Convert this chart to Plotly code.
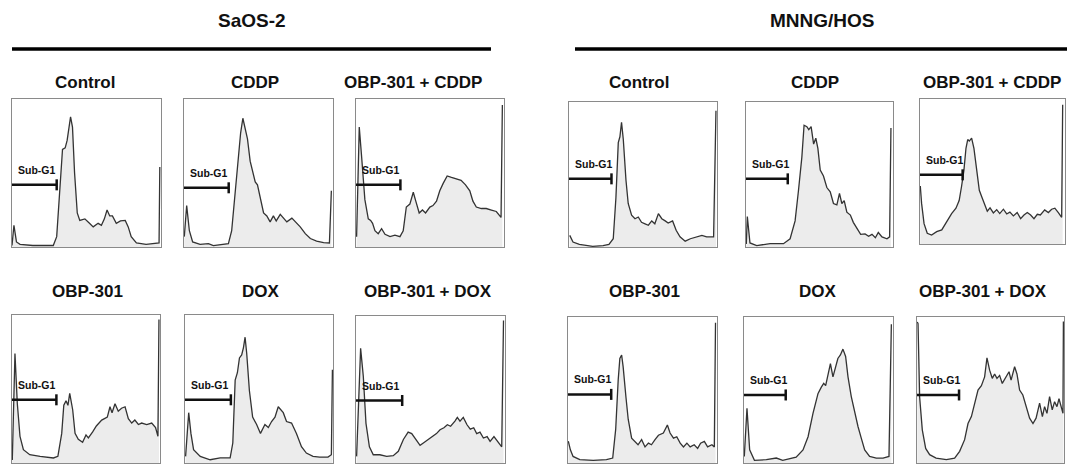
import plotly.graph_objects as go

# ---------------- data ----------------
GROUPS = ["SaOS-2", "MNNG/HOS"]
TITLES_ROW1 = ["Control", "CDDP", "OBP-301 + CDDP"]
TITLES_ROW2 = ["OBP-301", "DOX", "OBP-301 + DOX"]
GATE_LABEL = "Sub-G1"

# DNA content (x, % of channel range) vs. cell count (y, % of panel height)
SAOS_CONTROL_X = [0, 1.3, 3, 5.4, 14, 27.7, 30, 32, 33.9, 35.7, 37, 39.3, 40.6, 42, 43.8, 45.5, 48.9, 52, 54.5, 57.8,
                  60, 62, 63.8, 65.6, 67.4, 70, 72.8, 76, 78, 80, 83.5, 90, 96.9, 98.7, 99.2]
SAOS_CONTROL_Y = [1, 14.7, 3.4, 1.8, 1, 1, 7, 38, 66, 67, 72, 88, 81, 50, 23, 18, 19, 16, 13.6, 16,
                  14.7, 19, 25, 21, 21, 16, 17.6, 18, 13.6, 7, 2.7, 1.8, 2.7, 2.7, 54]

SAOS_CDDP_X = [0.2, 1.8, 3.6, 5.8, 10.8, 16.4, 19.7, 26.5, 29.8, 32, 34.3, 36.5, 38, 39.5, 41, 42.6, 44.4, 46, 47.8,
               49.3, 51, 53.4, 55.6, 57.8, 60, 61.9, 64.6, 66.8, 69, 72.4, 74.7, 78, 81.4, 84.8, 89, 93.7, 97.6, 98.9]
SAOS_CDDP_Y = [7, 28, 11, 3.4, 1.8, 2.3, 1, 2, 2.3, 11, 38, 61, 77, 87, 81, 73, 58, 52, 44,
               42, 34, 23, 21, 17, 21, 17.6, 22, 19.5, 17, 19.5, 17, 13.6, 9, 5.7, 4, 3, 2.7, 38]

SAOS_OBP_CDDP_X = [0.4, 2.2, 3.8, 6, 8.3, 9.9, 11.2, 12.8, 15, 17.3, 19.6, 23, 26.3, 29.7, 31.9, 34, 36.4, 38.7, 40.4,
                   42.7, 44.9, 47, 49.9, 52, 54.4, 56.6, 58.9, 61.6, 64.5, 67.9, 71, 74, 76.9, 79, 81.3, 84.7, 88,
                   91.5, 94.8, 98, 98.9]
SAOS_OBP_CDDP_Y = [7, 81, 61, 32, 19, 18, 16, 11, 9, 12.4, 8.6, 7, 8, 7, 11, 27, 29, 37, 31,
                   23, 25, 23, 27, 28, 31, 38, 43, 48, 47, 46, 45, 42, 38, 31, 27, 26, 26,
                   25, 24, 20, 96]

SAOS_OBP_X = [0.2, 2, 3.6, 5.4, 7.7, 12, 19, 28, 31, 33.6, 35, 36.5, 37.8, 39, 41, 42.6, 44.8, 47.7, 50, 51.6,
              54.5, 57, 60.6, 64.4, 66.2, 67.6, 69.6, 71.8, 74, 76.4, 78.6, 80.9, 83, 85.4, 87.6, 91, 94.4, 97,
              98.6, 99.3]
SAOS_OBP_Y = [2, 74, 40, 18, 9, 5.6, 4.5, 3.4, 4.5, 20, 39, 42, 39, 47, 36, 20, 16, 14, 19, 17,
              21, 25, 29, 31, 38, 34, 40, 35, 37, 38, 30, 27, 29, 26, 27, 26, 27, 24,
              18, 97]

SAOS_DOX_X = [0.4, 2.5, 4, 5.8, 10.3, 17, 23.8, 30.5, 32.3, 33.9, 35.4, 36.8, 38.3, 39.5, 40.6, 41.7, 43.5, 45.7,
              48.4, 51, 54, 56.3, 58.5, 60.8, 63, 64.8, 66.4, 68.6, 72, 75.3, 78.7, 82, 86.5, 91, 96.6, 98.9, 99.6]
SAOS_DOX_Y = [4.5, 34, 20, 9, 4.5, 2.2, 3.4, 3.4, 13.5, 56, 61, 71, 73, 78, 85, 74, 49, 31,
              26, 20, 26, 24, 28, 31, 38, 36, 34, 28, 27, 20, 11, 6.7, 4.5, 4, 4, 5.6, 63]

SAOS_OBP_DOX_X = [0.4, 3.1, 4.9, 6.7, 9, 11.6, 16, 20.6, 25, 28.4, 31.8, 35, 37.4, 40.3, 43, 45.2, 48.5, 51, 54,
                  56.4, 59, 61.3, 63.5, 66.4, 68, 69.8, 72, 74.5, 76.7, 79, 81, 83.2, 85.5, 88, 90, 92.6, 94.9,
                  97.8, 99]
SAOS_OBP_DOX_Y = [4.5, 78, 59, 27, 11, 5.6, 5.6, 4.5, 5, 8, 16, 21, 20, 16, 12, 13.6, 16, 18, 20,
                  22.6, 24, 26, 25, 28.5, 31, 28.5, 31, 26, 23, 24, 20, 21, 17, 18, 14.7, 18, 14.7,
                  11, 97]

MNNG_CONTROL_X = [0.5, 2.7, 7, 16, 23, 27, 29.9, 31.7, 33.3, 34.4, 35.5, 36.7, 38.5, 40, 42.3, 44.6, 46.8, 49, 51.4,
                  53.6, 55.9, 58, 60.4, 62.7, 65, 67, 70, 72.4, 75, 78.5, 82, 86.4, 89.8, 93, 97.7, 99.3]
MNNG_CONTROL_Y = [8, 3.4, 1.8, 0.5, 1, 1.8, 5.7, 34, 72, 76, 86, 74, 46, 30, 22, 19.5, 20.7, 17, 16,
                  15, 18, 16, 23, 19.5, 18, 16.5, 18, 11.5, 7, 4, 5.7, 7, 8, 7, 7, 94]

MNNG_CDDP_X = [0.2, 0.9, 2.7, 7.3, 16.4, 25.5, 30, 33.4, 35.7, 38, 39.5, 41.4, 42.7, 44.3, 46, 47.5, 48.9, 50.5,
               52.7, 55, 57.3, 59.5, 61.8, 63.6, 65.2, 66.8, 68.6, 71, 73, 75.5, 78, 81, 83.4, 85.7, 88, 90, 92.5,
               95.9, 97.7, 98.6]
MNNG_CDDP_Y = [2, 21, 2.8, 1, 2.3, 2.3, 5.7, 18, 39, 62, 84, 83, 81, 83, 71, 75, 68, 53,
               49, 41, 38, 30, 29, 37, 30, 32, 24, 22, 17, 12.6, 8.7, 9, 7.4, 8.7, 6.4, 10, 7,
               5.7, 7, 82]

MNNG_OBP_CDDP_X = [0.2, 1.1, 2.8, 5, 8, 11.5, 15, 18.4, 21.8, 24.8, 27, 28.7, 30.3, 31.7, 32.9, 34, 35.6, 37.2, 39,
                   40.9, 42.5, 44.8, 46.4, 48.3, 50.6, 52.9, 55, 57.5, 59.8, 62, 64.4, 67, 69.4, 71.7, 74, 76.3,
                   78.6, 80.9, 83, 86, 88.5, 90.8, 93, 95.4, 97.7, 98.4]
MNNG_OBP_CDDP_Y = [40, 28, 14, 7.4, 6.2, 8.5, 9.7, 15.7, 21, 24.7, 30, 40, 51, 66, 72, 71, 73, 66, 51,
                   37, 32.7, 26, 22.6, 24.9, 21.4, 23.7, 21, 24, 20.7, 22, 19.4, 21.7, 17.5, 20, 21.7, 20,
                   17.5, 20.5, 20, 23.5, 21.7, 24, 24.7, 21.7, 18.4, 96]

MNNG_OBP_X = [0.2, 1.6, 3.4, 7.9, 16.9, 25.8, 30, 32, 33.7, 34.8, 36, 37, 38.9, 40.4, 42.7, 45, 47, 49.4, 51.7, 54,
              56, 58.4, 60.7, 64, 66.7, 68.5, 70.8, 73, 75.3, 77.5, 79.8, 82, 84.7, 87, 89, 91.5, 93.7, 96.6,
              98.2, 99]
MNNG_OBP_Y = [15, 9, 4.5, 2.3, 1.8, 2.3, 3.4, 23, 57, 71.6, 74, 66, 45, 30, 17, 14.8, 12.5, 16, 11, 13.6,
              12.5, 16, 19, 20.5, 26, 20.5, 17, 18, 13.6, 11, 13.6, 11, 12.5, 10, 13.6, 14.8, 11, 12.5,
              11, 96]

MNNG_DOX_X = [0.2, 2, 3.8, 7, 15, 21.7, 26, 35, 39.6, 43, 46.3, 49.7, 51.9, 53.5, 54.8, 56.4, 58, 59.7, 61.5, 63,
              64.7, 66.4, 68.2, 69.8, 72, 74.3, 76.5, 78.7, 81, 84.3, 88.8, 93.3, 97.3, 98.9]
MNNG_DOX_Y = [4.5, 37.5, 9, 1.8, 2.3, 3.4, 1.8, 4, 9, 18, 34, 47.7, 52, 54.5, 53, 61, 68, 59, 65, 71.6,
              74, 78, 73, 59, 45.5, 34, 25, 17, 9, 4.5, 3.4, 3.4, 4.5, 95]

MNNG_OBP_DOX_X = [0.2, 0.7, 1.8, 3.6, 5.9, 8.6, 13, 20, 25.6, 29, 32.4, 34.7, 37, 39.2, 41.5, 43.8, 46, 47.6, 49.4,
                  51.2, 52.8, 54.4, 56.2, 58, 60.3, 62.6, 64, 66.4, 68, 69.8, 72, 74.4, 76.6, 78.9, 81, 83.4,
                  85.3, 86.8, 88.4, 90.2, 92, 93.6, 95.2, 96.6, 98.2, 99.3, 99.6]
MNNG_OBP_DOX_Y = [96.6, 95.5, 45, 22.7, 10, 5.7, 3.4, 2.3, 3.4, 8, 16, 27, 31.8, 41, 50, 53, 59, 72, 63.6,
                  58, 61, 58, 60, 54.5, 59, 62.5, 56.8, 65.9, 61, 50, 46.6, 38.6, 30.7, 27, 30.7, 41,
                  31.8, 38.6, 34, 45.5, 36.4, 42, 38.6, 44, 38.6, 34, 97]

# Sub-G1 gate: upper bound (x) and drawing level (y), per panel
GATE_END = [30, 30, 30, 30, 31, 31, 28.7, 28.4, 29.4, 29, 28, 28.6]
GATE_Y = [42, 40, 42, 42.7, 42.7, 42.5, 47, 47, 47.7, 47, 46.6, 46.6]

SERIES = [
    (SAOS_CONTROL_X, SAOS_CONTROL_Y), (SAOS_CDDP_X, SAOS_CDDP_Y), (SAOS_OBP_CDDP_X, SAOS_OBP_CDDP_Y),
    (SAOS_OBP_X, SAOS_OBP_Y), (SAOS_DOX_X, SAOS_DOX_Y), (SAOS_OBP_DOX_X, SAOS_OBP_DOX_Y),
    (MNNG_CONTROL_X, MNNG_CONTROL_Y), (MNNG_CDDP_X, MNNG_CDDP_Y), (MNNG_OBP_CDDP_X, MNNG_OBP_CDDP_Y),
    (MNNG_OBP_X, MNNG_OBP_Y), (MNNG_DOX_X, MNNG_DOX_Y), (MNNG_OBP_DOX_X, MNNG_OBP_DOX_Y),
]

# ---------------- layout (pixels) ----------------
W, H = 1075, 464
FONT = "Liberation Sans, Arial, sans-serif"
# panel boxes: left, right, top, bottom
BOXES = [
    (12, 161, 99, 247), (184, 333, 99, 247), (356, 504, 99, 247),
    (12, 160, 315, 463), (185, 333, 315, 463), (356, 505, 316, 463),
    (569, 717, 102, 247), (746, 893, 102, 247), (920, 1065, 99, 244),
    (568, 717, 317, 463), (744, 893, 317, 463), (917, 1064, 317, 463),
]
GROUP_TITLE_POS = [(252, 20), (822, 20)]
GROUP_LINE_POS = [(12, 491, 49), (575, 1067, 49)]
PANEL_TITLE_POS = [
    (85, 82), (255, 82), (413, 82), (87, 291), (261, 291), (428, 291),
    (639, 82), (815, 82), (992, 82), (644, 291), (818, 291), (983, 291),
]
PANEL_TITLES = TITLES_ROW1 + TITLES_ROW2 + TITLES_ROW1 + TITLES_ROW2


def px(x):
    return x / W


def py(y):
    return 1 - y / H


fig = go.Figure()
layout = dict(
    width=W, height=H, margin=dict(l=0, r=0, t=0, b=0),
    paper_bgcolor="white", plot_bgcolor="white", showlegend=False,
    font=dict(family=FONT, color="#111"),
)
annotations = []
shapes = []

for i, ((xs, ys), (l, r, t, b)) in enumerate(zip(SERIES, BOXES)):
    n = "" if i == 0 else str(i + 1)
    xa, ya = "x" + n, "y" + n
    axis_common = dict(range=[0, 100], showgrid=False, zeroline=False, showticklabels=False, ticks="",
                       showline=True, mirror=True, linecolor="#8a8a8a", linewidth=1, fixedrange=True)
    layout["xaxis" + n] = dict(domain=[px(l), px(r)], anchor=ya, **axis_common)
    layout["yaxis" + n] = dict(domain=[py(b), py(t)], anchor=xa, **axis_common)

    fig.add_trace(go.Scatter(x=xs, y=ys, xaxis=xa, yaxis=ya, mode="lines", fill="tozeroy",
                             fillcolor="#ececec", line=dict(color="#333333", width=1.3), hoverinfo="skip"))

    box_h = b - t
    tick = 5.5 / box_h * 100
    ge, gy = GATE_END[i], GATE_Y[i]
    fig.add_trace(go.Scatter(x=[0, ge, None, ge, ge], y=[gy, gy, None, gy - tick, gy + tick],
                             xaxis=xa, yaxis=ya, mode="lines",
                             line=dict(color="#111", width=2.5), hoverinfo="skip"))
    annotations.append(dict(xref=xa, yref=ya, x=2.5, y=gy + 15 / box_h * 100, xanchor="left", yanchor="middle",
                            text="<b>" + GATE_LABEL + "</b>", showarrow=False,
                            font=dict(family=FONT, size=10.5, color="#111")))

for name, (x, y) in zip(GROUPS, GROUP_TITLE_POS):
    annotations.append(dict(xref="paper", yref="paper", x=px(x), y=py(y), xanchor="center", yanchor="middle",
                            text="<b>" + name + "</b>", showarrow=False,
                            font=dict(family=FONT, size=19, color="#111")))
for (x0, x1, y) in GROUP_LINE_POS:
    shapes.append(dict(type="line", xref="paper", yref="paper", x0=px(x0), x1=px(x1), y0=py(y), y1=py(y),
                       line=dict(color="#000", width=3.5)))
for name, (x, y) in zip(PANEL_TITLES, PANEL_TITLE_POS):
    annotations.append(dict(xref="paper", yref="paper", x=px(x), y=py(y), xanchor="center", yanchor="middle",
                            text="<b>" + name + "</b>", showarrow=False,
                            font=dict(family=FONT, size=17, color="#111")))

layout["annotations"] = annotations
layout["shapes"] = shapes
fig.update_layout(**layout)
fig.write_html("out.html", config={"displayModeBar": False},
               post_script="document.body.style.margin='0';document.body.style.overflow='hidden';")
